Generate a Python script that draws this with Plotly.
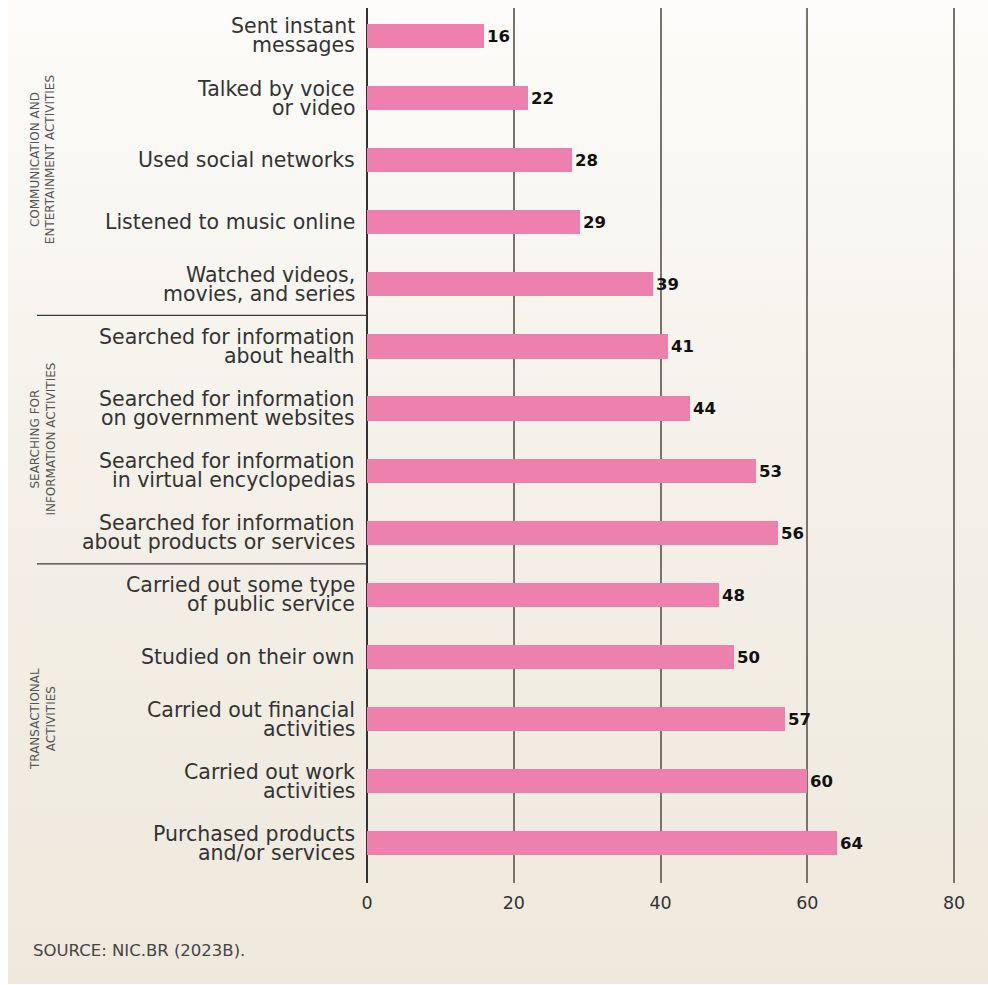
import base64
import plotly.graph_objects as go

# Share of internet users by online activity (%)
categories = [
    "Sent instant<br>messages",
    "Talked by voice<br>or video",
    "Used social networks",
    "Listened to music online",
    "Watched videos,<br>movies, and series",
    "Searched for information<br>about health",
    "Searched for information<br>on government websites",
    "Searched for information<br>in virtual encyclopedias",
    "Searched for information<br>about products or services",
    "Carried out some type<br>of public service",
    "Studied on their own",
    "Carried out financial<br>activities",
    "Carried out work<br>activities",
    "Purchased products<br>and/or services",
]
values = [16, 22, 28, 29, 39, 41, 44, 53, 56, 48, 50, 57, 60, 64]

groups = [
    "COMMUNICATION AND<br>ENTERTAINMENT ACTIVITIES",
    "SEARCHING FOR<br>INFORMATION ACTIVITIES",
    "TRANSACTIONAL<br>ACTIVITIES",
]
group_sizes = [5, 4, 5]

tick_vals = [0, 20, 40, 60, 80]
source_note = "SOURCE: NIC.BR (2023B)."

FONT = "DejaVu Sans"
W, H = 988, 985
ML, MR, MT, MB = 367, 31, 8, 102
PW, PH = W - ML - MR, H - MT - MB
X_MAX = 80.4

fig = go.Figure()
fig.add_trace(go.Bar(
    y=list(range(len(categories))),
    x=values,
    orientation="h",
    marker=dict(color="#ee80ad", line=dict(width=0)),
    width=0.39,
    text=[str(v) for v in values],
    textposition="outside",
    textfont=dict(family=FONT, size=16.5, color="#111111", weight="bold"),
    cliponaxis=False,
    hoverinfo="skip",
))

annotations = []
# Category labels, right aligned, one annotation per line for tight spacing
LINE = 19
for i, label in enumerate(categories):
    lines = label.split("<br>")
    n = len(lines)
    for j, ln in enumerate(lines):
        off = (n - 1) / 2 * LINE - j * LINE
        annotations.append(dict(
            x=0, y=i, xref="x", yref="y", text=ln, showarrow=False,
            xanchor="right", yanchor="middle", xshift=-11, yshift=off,
            borderpad=0,
            font=dict(family=FONT, size=20.5, color="#333333"),
        ))

# Group labels (rotated) and separators between groups
shapes = []
start = 0
for gi, (g, n) in enumerate(zip(groups, group_sizes)):
    centre = start + (n - 1) / 2
    annotations.append(dict(
        x=(43 - ML) / PW, y=centre, xref="paper", yref="y", text=g,
        showarrow=False, textangle=-90, xanchor="center", yanchor="middle",
        font=dict(family=FONT, size=12, color="#555555"),
    ))
    if gi < len(groups) - 1:
        sep = start + n - 0.5
        shapes.append(dict(
            type="line", xref="paper", yref="y",
            x0=(37 - ML) / PW, x1=0, y0=sep, y1=sep,
            line=dict(color="#3a3a3a", width=1.3),
        ))
    start += n

annotations.append(dict(
    x=(31 - ML) / PW, y=(H - MB - 950) / PH,
    xref="paper", yref="paper", text=source_note, showarrow=False,
    xanchor="left", yanchor="middle",
    font=dict(family=FONT, size=16.5, color="#444444"),
))

# Background panel with a soft vertical gradient
svg = (
    '<svg xmlns="http://www.w3.org/2000/svg" width="980" height="984" '
    'preserveAspectRatio="none"><defs><linearGradient id="g" x1="0" y1="0" '
    'x2="0" y2="1"><stop offset="0" stop-color="#fdfcfa"/>'
    '<stop offset="0.55" stop-color="#f3efe6"/>'
    '<stop offset="1" stop-color="#efe9dd"/></linearGradient></defs>'
    '<rect width="980" height="984" fill="url(#g)"/></svg>'
)
bg = "data:image/svg+xml;base64," + base64.b64encode(svg.encode()).decode()

fig.update_layout(
    width=W, height=H,
    margin=dict(l=ML, r=MR, t=MT, b=MB, pad=0),
    paper_bgcolor="#ffffff",
    plot_bgcolor="rgba(0,0,0,0)",
    showlegend=False,
    bargap=0,
    annotations=annotations,
    shapes=shapes,
    images=[dict(
        source=bg, xref="paper", yref="paper",
        x=(8 - ML) / PW, y=1 + MT / PH, sizex=980 / PW, sizey=984 / PH,
        xanchor="left", yanchor="top", sizing="stretch", layer="below",
    )],
    xaxis=dict(
        range=[0, X_MAX], tickvals=tick_vals, ticktext=[str(t) for t in tick_vals],
        showgrid=True, gridcolor="#77746c", gridwidth=1.5,
        zeroline=True, zerolinecolor="#333333", zerolinewidth=1.5,
        showline=False, ticks="", ticklabelstandoff=7,
        tickfont=dict(family=FONT, size=17.5, color="#333333"),
        fixedrange=True,
    ),
    yaxis=dict(
        range=[13.64, -0.45], showticklabels=False, showgrid=False,
        zeroline=False, showline=False, ticks="", fixedrange=True,
    ),
)

fig.write_html("out.html")
